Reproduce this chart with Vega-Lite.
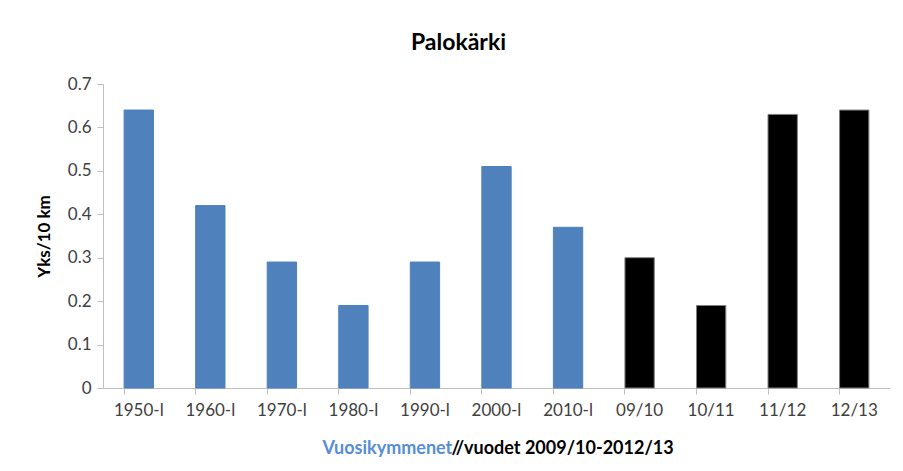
{
  "$schema": "https://vega.github.io/schema/vega-lite/v6.json",
  "width": 787,
  "height": 304,
  "autosize": "none",
  "padding": {"left": 103, "top": 84, "right": 13, "bottom": 83},
  "background": "white",
  "title": {
    "text": "Palokärki",
    "font": "Lato",
    "fontSize": 23,
    "fontWeight": "bold",
    "color": "#000000",
    "anchor": "middle",
    "frame": "group",
    "dx": -38,
    "offset": 20
  },
  "data": {
    "values": [
      {"period": "1950-l", "value": 0.64, "group": "decade"},
      {"period": "1960-l", "value": 0.42, "group": "decade"},
      {"period": "1970-l", "value": 0.29, "group": "decade"},
      {"period": "1980-l", "value": 0.19, "group": "decade"},
      {"period": "1990-l", "value": 0.29, "group": "decade"},
      {"period": "2000-l", "value": 0.51, "group": "decade"},
      {"period": "2010-l", "value": 0.37, "group": "decade"},
      {"period": "09/10", "value": 0.30, "group": "year"},
      {"period": "10/11", "value": 0.19, "group": "year"},
      {"period": "11/12", "value": 0.63, "group": "year"},
      {"period": "12/13", "value": 0.64, "group": "year"}
    ]
  },
  "layer": [
    {
      "mark": {"type": "bar", "strokeWidth": 1},
      "encoding": {
        "x": {
          "field": "period",
          "type": "nominal",
          "sort": null,
          "scale": {"paddingInner": 0.59, "paddingOuter": 0.295},
          "axis": {
            "orient": "bottom",
            "title": "//vuodet 2009/10-2012/13",
            "titleAnchor": "start",
            "titleAlign": "left",
            "titleX": 348,
            "titleY": 65,
            "titleBaseline": "alphabetic",
            "titleFont": "Lato",
            "titleFontSize": 18,
            "titleFontWeight": "bold",
            "titleColor": "#000000",
            "labelAngle": 0,
            "labelFont": "Lato",
            "labelFontSize": 17,
            "labelColor": "#404040",
            "labelPadding": 8,
            "bandPosition": 0,
            "tickSize": 6,
            "tickColor": "#BFBFBF",
            "domainColor": "#BFBFBF",
            "grid": false
          }
        },
        "y": {
          "field": "value",
          "type": "quantitative",
          "scale": {"domain": [0, 0.7]},
          "axis": {
            "title": "Yks/10 km",
            "titleFont": "Lato",
            "titleFontSize": 17,
            "titleFontWeight": "bold",
            "titleColor": "#000000",
            "titlePadding": 14,
            "values": [0, 0.1, 0.2, 0.3, 0.4, 0.5, 0.6, 0.7],
            "format": "~g",
            "labelFont": "Lato",
            "labelFontSize": 17,
            "labelColor": "#404040",
            "labelPadding": 6,
            "tickSize": 6,
            "tickColor": "#BFBFBF",
            "domainColor": "#BFBFBF",
            "grid": false
          }
        },
        "color": {
          "field": "group",
          "type": "nominal",
          "scale": {"domain": ["decade", "year"], "range": ["#4F81BD", "#000000"]},
          "legend": null
        },
        "stroke": {
          "field": "group",
          "type": "nominal",
          "scale": {"domain": ["decade", "year"], "range": ["#4F81BD", "#808080"]},
          "legend": null
        }
      }
    },
    {
      "mark": {"type": "bar", "opacity": 0},
      "encoding": {
        "x": {
          "field": "period",
          "type": "nominal",
          "sort": null,
          "axis": {
            "orient": "bottom",
            "title": "Vuosikymmenet",
            "titleAnchor": "start",
            "titleAlign": "left",
            "titleX": 219,
            "titleY": 65,
            "titleBaseline": "alphabetic",
            "titleFont": "Lato",
            "titleFontSize": 18,
            "titleFontWeight": "bold",
            "titleColor": "#558ED5",
            "labels": false,
            "ticks": false,
            "domain": false,
            "grid": false
          }
        },
        "y": {"field": "value", "type": "quantitative"}
      }
    }
  ],
  "resolve": {"axis": {"x": "independent"}},
  "config": {"view": {"stroke": null}}
}
